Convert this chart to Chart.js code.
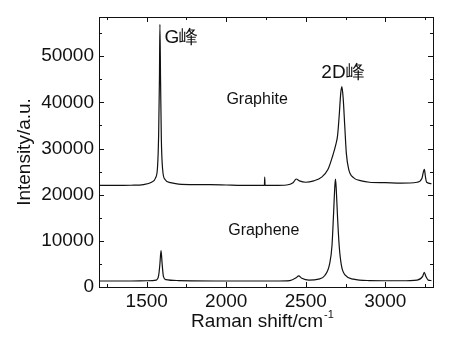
<!DOCTYPE html>
<html>
<head>
  <title>Raman spectra - Graphite vs Graphene</title>
  <script src="https://cdn.jsdelivr.net/npm/chart.js"></script>
  <style>
    body { margin: 0; background: #fff; }
    #wrap { width: 450px; height: 344px; }
  </style>
</head>
<body>
  <div id="wrap"><canvas id="chart" width="450" height="344"></canvas></div>
  <script>
    // Graphite spectrum (offset upwards in the original figure)
    var graphiteX = [1200, 1300, 1400, 1480, 1530, 1555, 1568, 1575, 1580, 1583, 1587, 1592, 1600, 1615, 1650, 1700,
      1800, 1900, 2000, 2100, 2200, 2240, 2242, 2244, 2300, 2380, 2420, 2440, 2460, 2500, 2550, 2600, 2640,
      2670, 2690, 2700, 2710, 2720, 2727, 2735, 2745, 2755, 2770, 2800, 2850, 2900, 3000, 3100, 3200, 3230,
      3240, 3246, 3252, 3260, 3290];
    var graphiteY = [22000, 22000, 22050, 22200, 22700, 23600, 26000, 33000, 45000, 56900, 45000, 32000, 25500, 23300, 22600, 22300,
      22200, 22200, 22100, 22000, 22000, 22000, 23800, 22000, 22000, 22100, 22600, 23400, 23000, 22700, 23000, 23800, 25500,
      28500, 31000, 32800, 37000, 42000, 43400, 41000, 35000, 29000, 25500, 23700, 23000, 22700, 22600, 22500, 22700, 23500,
      25000, 25500, 24000, 22700, 22400];

    // Graphene spectrum
    var grapheneX = [1200, 1400, 1500, 1560, 1575, 1583, 1590, 1597, 1605, 1620, 1700, 2000, 2300, 2400, 2440, 2455,
      2475, 2520, 2580, 2620, 2650, 2665, 2675, 2683, 2687, 2692, 2700, 2710, 2725, 2750, 2800, 2900, 3100,
      3200, 3235, 3245, 3255, 3270, 3290];
    var grapheneY = [1300, 1300, 1350, 1500, 2500, 5000, 7900, 5000, 2300, 1600, 1400, 1300, 1300, 1400, 2000, 2400,
      1900, 1500, 1700, 2500, 5000, 9000, 16000, 22000, 23400, 21000, 15000, 9000, 4500, 2500, 1700, 1400, 1350,
      1500, 2300, 3200, 2300, 1500, 1400];

    var xTicks = [1500, 2000, 2500, 3000];
    var xMinor = [1250, 1750, 2250, 2750, 3250];
    var yTicks = [0, 10000, 20000, 30000, 40000, 50000];
    var yMinor = [5000, 15000, 25000, 35000, 45000, 55000];

    // labels inside the plot (data coordinates)
    var noteText = ["G峰", "2D峰", "Graphite", "Graphene"];
    var noteX = [1612, 2598, 2194, 2236];
    var noteY = [54100, 46500, 40500, 12300];

    function toPoints(xs, ys) {
      return xs.map(function (x, i) { return { x: x, y: ys[i] }; });
    }

    var font = "'Liberation Sans', Arial, sans-serif";

    // frame, inward ticks on all four sides, axis titles and notes
    var decor = {
      id: 'decor',
      afterDraw: function (chart) {
        var ctx = chart.ctx;
        var a = chart.chartArea;
        var xs = chart.scales.x, ys = chart.scales.y;
        ctx.save();
        ctx.strokeStyle = '#111';
        ctx.lineWidth = 1;
        ctx.strokeRect(Math.round(a.left) + 0.5, Math.round(a.top) + 0.5,
          Math.round(a.right - a.left), Math.round(a.bottom - a.top));

        function xTick(v, len) {
          var p = Math.round(xs.getPixelForValue(v)) + 0.5;
          ctx.beginPath();
          ctx.moveTo(p, a.bottom); ctx.lineTo(p, a.bottom - len);
          ctx.moveTo(p, a.top); ctx.lineTo(p, a.top + len);
          ctx.stroke();
        }
        function yTick(v, len) {
          var p = Math.round(ys.getPixelForValue(v)) + 0.5;
          ctx.beginPath();
          ctx.moveTo(a.left, p); ctx.lineTo(a.left + len, p);
          ctx.moveTo(a.right, p); ctx.lineTo(a.right - len, p);
          ctx.stroke();
        }
        xTicks.forEach(function (v) { xTick(v, 5); });
        xMinor.forEach(function (v) { xTick(v, 3); });
        yTicks.forEach(function (v) { yTick(v, 5); });
        yMinor.forEach(function (v) { yTick(v, 3); });

        ctx.fillStyle = '#111';
        // y title
        ctx.save();
        ctx.translate(25, (a.top + a.bottom) / 2);
        ctx.rotate(-Math.PI / 2);
        ctx.font = '19px ' + font;
        ctx.textAlign = 'center';
        ctx.textBaseline = 'middle';
        ctx.fillText('Intensity/a.u.', 0, 0);
        ctx.restore();

        // x title with superscript
        ctx.font = '19px ' + font;
        ctx.textBaseline = 'middle';
        ctx.textAlign = 'left';
        var main = 'Raman shift/cm';
        var w = ctx.measureText(main).width;
        ctx.font = '11px ' + font;
        var sw = ctx.measureText('-1').width;
        var x0 = (a.left + a.right) / 2 - 4 - (w + sw) / 2;
        ctx.font = '19px ' + font;
        ctx.fillText(main, x0, 322);
        ctx.font = '11px ' + font;
        ctx.fillText('-1', x0 + w + 1, 315);

        // notes
        noteText.forEach(function (t, i) {
          var big = i < 2;
          ctx.font = (big ? '19px ' : '16px ') + font;
          ctx.textAlign = big ? 'left' : 'center';
          ctx.textBaseline = 'middle';
          ctx.fillText(t, xs.getPixelForValue(noteX[i]), ys.getPixelForValue(noteY[i]));
        });
        ctx.restore();
      }
    };

    new Chart(document.getElementById('chart'), {
      type: 'line',
      data: {
        datasets: [{
          label: 'Graphite',
          data: toPoints(graphiteX, graphiteY),
          borderColor: '#111',
          borderWidth: 1.2,
          pointRadius: 0,
          cubicInterpolationMode: 'monotone'
        }, {
          label: 'Graphene',
          data: toPoints(grapheneX, grapheneY),
          borderColor: '#111',
          borderWidth: 1.2,
          pointRadius: 0,
          cubicInterpolationMode: 'monotone'
        }]
      },
      options: {
        responsive: false,
        animation: false,
        layout: { padding: { top: 17, right: 17, left: 0, bottom: 0 } },
        plugins: { legend: { display: false }, tooltip: { enabled: false } },
        scales: {
          x: {
            type: 'linear',
            min: 1200,
            max: 3300,
            grid: { display: false, drawTicks: false },
            border: { display: false },
            afterBuildTicks: function (s) { s.ticks = xTicks.map(function (v) { return { value: v }; }); },
            afterFit: function (s) { s.height = 57; },
            ticks: {
              padding: 3, color: '#111', font: { family: font, size: 19 }, maxRotation: 0,
              callback: function (v) { return String(v); }
            }
          },
          y: {
            type: 'linear',
            min: 0,
            max: 58500,
            grid: { display: false, drawTicks: false },
            border: { display: false },
            afterBuildTicks: function (s) { s.ticks = yTicks.map(function (v) { return { value: v }; }); },
            afterFit: function (s) { s.width = 99; },
            ticks: {
              padding: 5, color: '#111', font: { family: font, size: 19 },
              callback: function (v) { return String(v); }
            }
          }
        }
      },
      plugins: [decor]
    });
  </script>
</body>
</html>
